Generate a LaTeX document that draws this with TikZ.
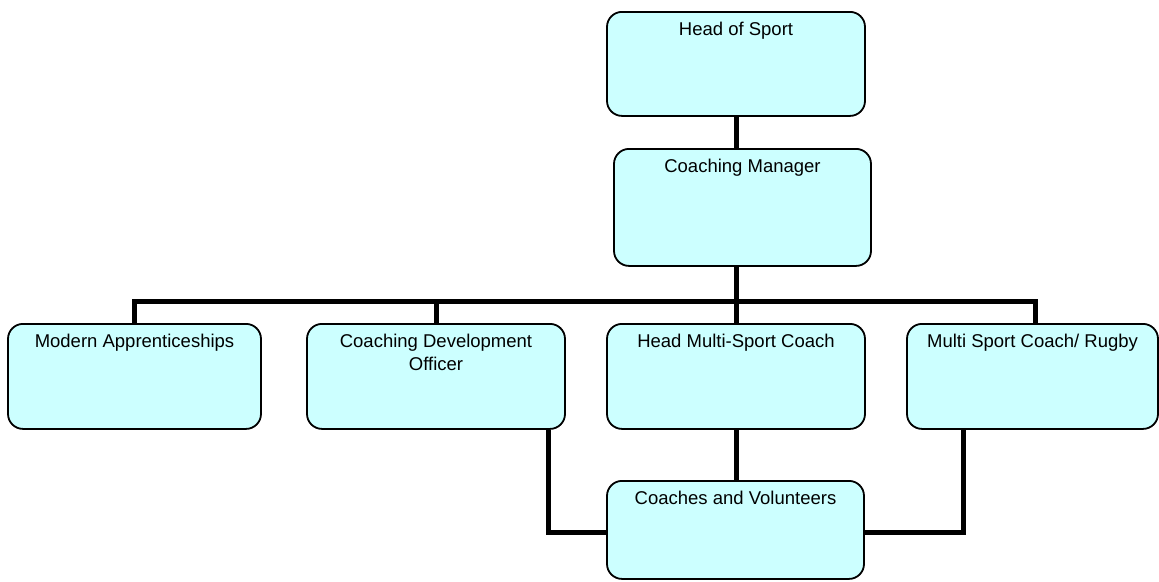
\documentclass[tikz,border=0pt]{standalone}
\usepackage{fontspec}
\setmainfont{Liberation Sans}
\usepackage{xcolor}
\usepackage{tikz}
\usetikzlibrary{positioning}
\definecolor{postfill}{HTML}{CCFFFF}

\begin{document}
\begin{tikzpicture}[x=1pt, y=-1pt,
                post/.style = {draw, line width=1.8pt, fill=postfill, rounded corners=15pt,
                    anchor=north, minimum width=258pt, inner xsep=4pt, inner ysep=0pt,
                    text height=24pt, align=center, font=\fontsize{18.5}{23}\selectfont},
                link/.style = {line width=5pt}]
                \useasboundingbox (0,0) rectangle (1159,581);
                \node[post, text depth=80pt] (head) at (736,11) {Head of Sport};
                \node[post, minimum width=257pt, text depth=93pt] (manager) at (742.5,148) {Coaching Manager};
                \node[post, minimum width=253pt, text depth=81pt] (apprent) at (134.5,323) {Modern Apprenticeships};
                \node[post, text height=47pt, text depth=58pt] (devofficer) at (436,323) {Coaching Development\\Officer};
                \node[post, text depth=81pt] (headcoach) at (736,323) {Head Multi-Sport Coach};
                \node[post, minimum width=251pt, text depth=81pt] (rugby) at (1032.5,323) {Multi Sport Coach/ Rugby};
                \node[post, minimum width=257pt, text depth=74pt] (volunteers) at (735.5,480) {Coaches and Volunteers};
                \coordinate (bus) at (0,301);
                \draw[link] (head.south) -- (head.south |- manager.north);
                \draw[link] (manager.south -| head.south) -- (headcoach.north);
                \draw[link] (apprent.north) -- (apprent.north |- bus) -| ([xshift=2.5pt]rugby.north);
                \draw[link] (devofficer.north) -- (devofficer.north |- bus);
                \draw[link] (headcoach.south) -- (headcoach.south |- volunteers.north);
                \draw[link] ([xshift=-17pt]devofficer.south east) |- ([yshift=-3pt]volunteers.west);
                \draw[link] ([xshift=57pt]rugby.south west) |- ([yshift=-3pt]volunteers.east);
            \end{tikzpicture}
\end{document}
